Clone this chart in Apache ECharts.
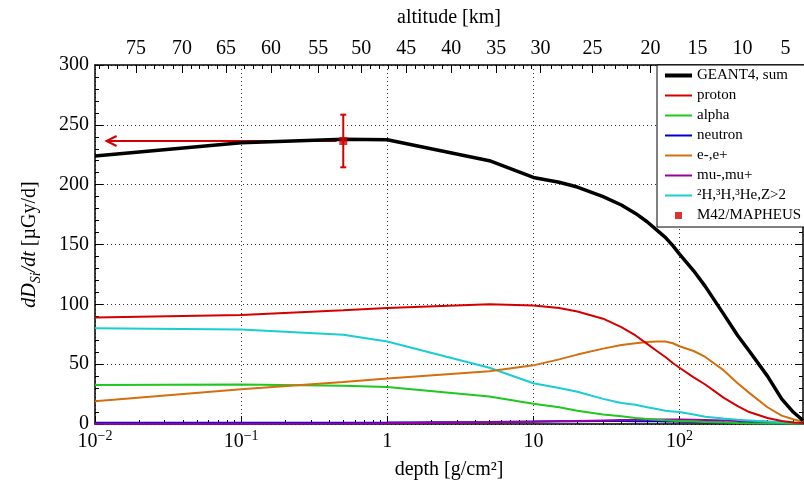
<!DOCTYPE html>
<html>
<head>
<meta charset="utf-8">
<title>dose rate vs depth</title>
<script src="https://cdn.jsdelivr.net/npm/echarts@6/dist/echarts.min.js"></script>
<style>
html, body { margin: 0; padding: 0; background: #fff; }
#chart { width: 804px; height: 485px; }
</style>
</head>
<body>
<div id="chart"></div>
<script>
//---------------------------Data---------------------------
//depth [g/cm2] where the GEANT4 curves are sampled
let depth = [0.01, 0.1, 0.5, 1, 5, 10, 15, 20, 30, 40, 50, 60, 70, 80, 90, 100, 125, 150, 200, 250, 300, 400, 500, 600, 700];

//dose rate [uGy/d] per component
let sumDose     = [224, 235, 238, 237.5, 220, 206, 202, 198, 190, 183, 176, 169, 162, 156, 149, 142, 128, 115, 92, 74, 61, 40, 21, 10, 3];
let protonDose  = [89, 91, 95, 97, 100, 99, 97, 94, 88, 81, 74, 67, 61, 56, 51, 47, 39, 33, 22, 15, 10, 5, 2.5, 1.3, 0.8];
let alphaDose   = [32.5, 33, 32, 31, 23, 17, 14, 11, 8, 6.5, 5, 4.2, 3.6, 3.1, 2.8, 2.5, 2, 1.6, 1.2, 0.9, 0.7, 0.5, 0.4, 0.3, 0.3];
let neutronDose = [1, 1, 1.1, 1.2, 1.6, 2, 2.2, 2.3, 2.5, 2.5, 2.4, 2.3, 2.2, 2.1, 2, 1.9, 1.7, 1.5, 1.2, 1, 0.9, 0.7, 0.5, 0.4, 0.3];
let elecDose    = [19, 29, 35, 38, 44, 49, 54, 58, 63, 66, 67.5, 68.5, 69, 69, 67.5, 65, 61, 56, 45, 34, 26, 14, 7, 4, 2];
let muonDose    = [0.2, 0.3, 0.5, 0.7, 1.4, 1.8, 2.2, 2.5, 3, 3.3, 3.5, 3.7, 3.8, 3.8, 3.8, 3.8, 3.6, 3.4, 3, 2.6, 2.3, 1.8, 1.4, 1.1, 0.9];
let ionDose     = [80, 79, 74.5, 69, 47, 34, 30, 27, 21, 17.5, 16, 14, 12.5, 11, 10.5, 10, 8, 6, 4.5, 3.5, 3, 2, 1.5, 1.2, 1];

//M42 on MAPHEUS
let m42Depth = [0.5];
let m42Dose = [236.5];
let m42Err = [22];
//arrow from the measurement to the top of the atmosphere
let arrowDepth = [0.012, 0.45];

//bottom axis
let depthTicks = [0.01, 0.1, 1, 10, 100];
let depthTickText = ['10{s|−2}', '10{s|−1}', '1', '10', '10{s|2}'];
let depthMax = 700;

//top axis: altitude [km] and the depth it sits at
let altitudeLabels = [75, 70, 65, 60, 55, 50, 45, 40, 35, 30, 25, 20, 15, 10, 5];
let altitudeDepth  = [0.0191, 0.0394, 0.0789, 0.160, 0.337, 0.664, 1.35, 2.74, 5.58, 11.2, 25.4, 63.2, 133, 270, 532];

//---------------------------Chart---------------------------
let chart = echarts.init(document.getElementById('chart'));
window.onresize = function () {
    chart.resize();
};

const FONT = 'Liberation Serif';
const RED = '#d40000';
let lmin = Math.log10(depthTicks[0]);
let lmax = Math.log10(depthMax);

let majorPos = depthTicks.map(d => Math.log10(d));
let minorPos = [];
for (let e = -2; e <= 2; e++) {
    for (let k = 2; k <= 9; k++) {
        let v = e + Math.log10(k);
        if (v < lmax) minorPos.push(v);
    }
}

let altPos = altitudeDepth.map(d => Math.log10(d));
let altMinor = [];
for (let i = 0; i < altPos.length - 1; i++) {
    let step = (altPos[i + 1] - altPos[i]) / 5;
    for (let k = 1; k < 5; k++) altMinor.push(altPos[i] + k * step);
}
let firstStep = (altPos[1] - altPos[0]) / 5;
for (let k = 1; k < 5; k++) {
    if (altPos[0] - k * firstStep > lmin) altMinor.push(altPos[0] - k * firstStep);
}
let lastStep = (altPos[altPos.length - 1] - altPos[altPos.length - 2]) / 5;
for (let k = 1; k < 5; k++) {
    if (altPos[altPos.length - 1] + k * lastStep < lmax) altMinor.push(altPos[altPos.length - 1] + k * lastStep);
}

function findIndex(list, v) {
    for (let i = 0; i < list.length; i++) {
        if (Math.abs(list[i] - v) < 1e-6) return i;
    }
    return -1;
}

function toSeries(vals) {
    return depth.map((d, i) => [Math.log10(d), vals[i]]);
}

function lineSeries(name, vals, color, width) {
    return {
        name: name,
        type: 'line',
        xAxisIndex: 0,
        yAxisIndex: 0,
        symbol: 'none',
        data: toSeries(vals),
        lineStyle: { color: color, width: width },
        itemStyle: { color: color },
        emphasis: { disabled: true }
    };
}

//legend entry showing only the line
function lineEntry(name, width) {
    return { name: name, itemStyle: { opacity: 0 }, lineStyle: { width: width } };
}

let gridLine = { show: true, lineStyle: { color: '#333', width: 1, type: [1, 3] } };
let frame = { show: true, onZero: false, lineStyle: { color: '#000', width: 1.5 } };
let labelFont = { fontFamily: FONT, fontSize: 20, color: '#000' };

let option = {
    animation: false,
    backgroundColor: '#fff',
    grid: { left: 95, right: 1, top: 65, bottom: 61, containLabel: false, outerBoundsMode: 'none' },
    legend: {
        orient: 'vertical',
        left: 657,
        top: 65,
        itemWidth: 27,
        itemHeight: 14,
        itemGap: 5,
        padding: [3, 6, 4, 6],
        backgroundColor: '#fff',
        borderColor: '#000',
        borderWidth: 1,
        borderRadius: 0,
        selectedMode: false,
        textStyle: { fontFamily: FONT, fontSize: 15, color: '#000', lineHeight: 14 },
        data: [
            lineEntry('GEANT4, sum', 4),
            lineEntry('proton', 2),
            lineEntry('alpha', 2),
            lineEntry('neutron', 2),
            lineEntry('e-,e+', 2),
            lineEntry('mu-,mu+', 2),
            lineEntry('²H,³H,³He,Z>2', 2),
            { name: 'M42/MAPHEUS', icon: 'path://M0,0L0.01,0M27,14L27.01,14M10,3.5H17V10.5H10Z' }
        ]
    },
    xAxis: [
        {
            type: 'value', position: 'bottom', min: lmin, max: lmax,
            axisLine: frame,
            axisTick: { inside: true, length: 8, customValues: majorPos, lineStyle: { color: '#000', width: 1 } },
            axisLabel: {
                customValues: majorPos, margin: 5, ...labelFont,
                formatter: function (v) {
                    let i = findIndex(majorPos, v);
                    return i < 0 ? '' : depthTickText[i];
                },
                rich: {
                    s: { fontFamily: FONT, fontSize: 14, lineHeight: 14, verticalAlign: 'top', color: '#000' }
                },
                lineHeight: 26
            },
            splitLine: gridLine,
            name: 'depth [g/cm²]', nameLocation: 'middle', nameGap: 29,
            nameTextStyle: { fontFamily: FONT, fontSize: 20, color: '#000' }
        },
        {
            type: 'value', position: 'bottom', min: lmin, max: lmax,
            axisLine: { show: false, onZero: false },
            axisTick: { inside: true, length: 4, customValues: minorPos, lineStyle: { color: '#000', width: 1 } },
            axisLabel: { show: false },
            splitLine: { show: false }
        },
        {
            type: 'value', position: 'top', min: lmin, max: lmax,
            axisLine: frame,
            axisTick: { inside: true, length: 8, customValues: altPos, lineStyle: { color: '#000', width: 1 } },
            axisLabel: {
                customValues: altPos, margin: 6, ...labelFont,
                formatter: function (v) {
                    let i = findIndex(altPos, v);
                    return i < 0 ? '' : String(altitudeLabels[i]);
                }
            },
            splitLine: { show: false },
            name: 'altitude [km]', nameLocation: 'middle', nameGap: 37,
            nameTextStyle: { fontFamily: FONT, fontSize: 20, color: '#000' }
        },
        {
            type: 'value', position: 'top', min: lmin, max: lmax,
            axisLine: { show: false, onZero: false },
            axisTick: { inside: true, length: 4, customValues: altMinor, lineStyle: { color: '#000', width: 1 } },
            axisLabel: { show: false },
            splitLine: { show: false }
        }
    ],
    yAxis: [
        {
            type: 'value', position: 'left', min: 0, max: 300, interval: 50,
            axisLine: frame,
            axisTick: { inside: true, length: 8, lineStyle: { color: '#000', width: 1 } },
            minorTick: { show: true, splitNumber: 5, length: 4, lineStyle: { color: '#000', width: 1 } },
            axisLabel: { margin: 6, ...labelFont },
            splitLine: gridLine,
            name: '{i|dD}{sub|Si}{i|/dt} [µGy/d]', nameLocation: 'middle', nameGap: 52,
            nameTextStyle: {
                fontFamily: FONT, fontSize: 20, color: '#000', lineHeight: 26,
                rich: {
                    i: { fontFamily: FONT, fontSize: 20, fontStyle: 'italic', color: '#000', lineHeight: 26 },
                    sub: { fontFamily: FONT, fontSize: 14, fontStyle: 'italic', color: '#000', lineHeight: 14, verticalAlign: 'bottom' }
                }
            }
        },
        {
            type: 'value', position: 'right', min: 0, max: 300, interval: 50,
            axisLine: frame,
            axisTick: { inside: true, length: 8, lineStyle: { color: '#000', width: 1 } },
            minorTick: { show: true, splitNumber: 5, length: 4, lineStyle: { color: '#000', width: 1 } },
            axisLabel: { show: false },
            splitLine: { show: false }
        }
    ],
    series: [
        lineSeries('neutron', neutronDose, '#0000c8', 2),
        lineSeries('mu-,mu+', muonDose, '#9b00a8', 2),
        lineSeries('alpha', alphaDose, '#1ec81e', 2),
        lineSeries('²H,³H,³He,Z>2', ionDose, '#19cdd0', 2),
        lineSeries('e-,e+', elecDose, '#d2700f', 2),
        lineSeries('proton', protonDose, RED, 2),
        {
            name: 'arrow',
            type: 'line',
            symbol: 'none',
            lineStyle: { color: RED, width: 2 },
            data: arrowDepth.map((d, i) => {
                let item = { value: [Math.log10(d), m42Dose[0]] };
                if (i === 0) {
                    item.symbol = 'path://M10,0L0,5L10,10';
                    item.symbolSize = [10, 10];
                    item.symbolOffset = [5, 0];
                    item.itemStyle = { color: 'transparent', borderColor: RED, borderWidth: 2 };
                }
                return item;
            }),
            emphasis: { disabled: true }
        },
        lineSeries('GEANT4, sum', sumDose, '#000', 3.5),
        {
            name: 'errorbar',
            type: 'custom',
            z: 5,
            data: m42Depth.map((d, i) => [Math.log10(d), m42Dose[i], m42Err[i]]),
            encode: { x: 0, y: 1 },
            renderItem: function (params, api) {
                let x = api.value(0);
                let y = api.value(1);
                let e = api.value(2);
                let hi = api.coord([x, y + e]);
                let lo = api.coord([x, y - e]);
                let st = { stroke: RED, lineWidth: 2 };
                return {
                    type: 'group',
                    children: [
                        { type: 'line', shape: { x1: hi[0], y1: hi[1], x2: lo[0], y2: lo[1] }, style: st },
                        { type: 'line', shape: { x1: hi[0] - 3, y1: hi[1], x2: hi[0] + 3, y2: hi[1] }, style: st },
                        { type: 'line', shape: { x1: lo[0] - 3, y1: lo[1], x2: lo[0] + 3, y2: lo[1] }, style: st }
                    ]
                };
            }
        },
        {
            name: 'M42/MAPHEUS',
            type: 'scatter',
            z: 6,
            symbol: 'rect',
            symbolSize: 8,
            itemStyle: { color: RED },
            data: m42Depth.map((d, i) => [Math.log10(d), m42Dose[i]]),
            emphasis: { disabled: true }
        }
    ]
};

chart.setOption(option);
</script>
</body>
</html>
